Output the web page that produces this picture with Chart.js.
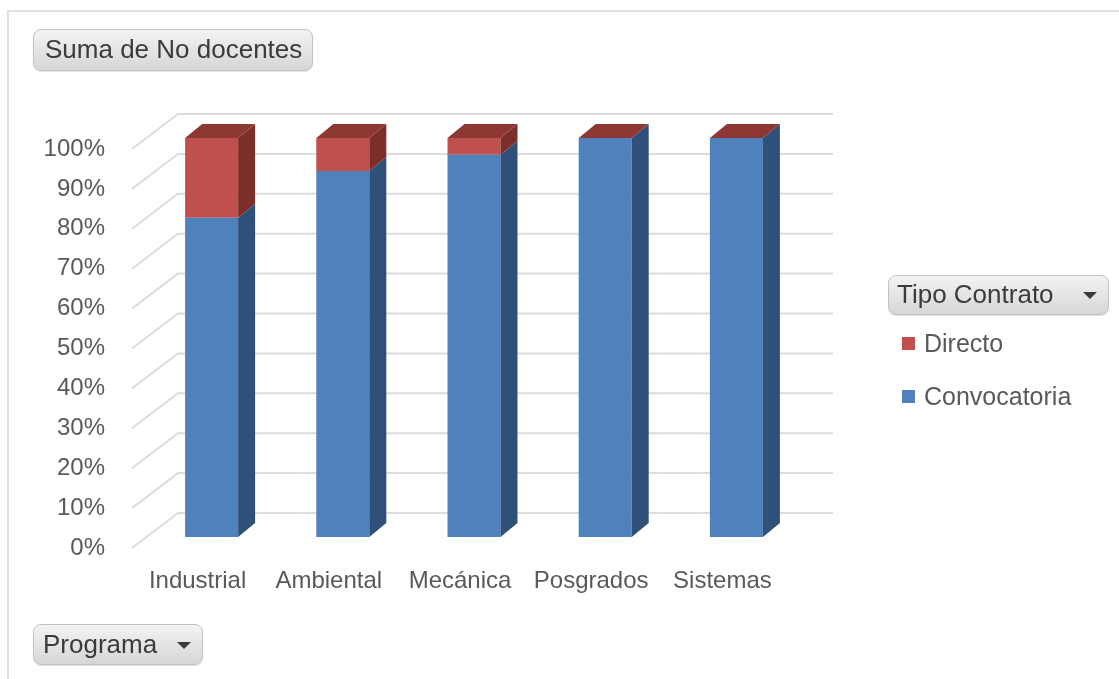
<!DOCTYPE html>
<html>
<head>
<meta charset="utf-8">
<title>Suma de No docentes</title>
<script src="https://cdn.jsdelivr.net/npm/chart.js@4"></script>
<style>
  html, body { margin: 0; padding: 0; background: #fff; }
  #wrap { position: relative; width: 1119px; height: 679px; overflow: hidden;
          font-family: "Liberation Sans", Arial, sans-serif; }
  #frame { position: absolute; left: 7px; top: 10px; width: 1130px; height: 700px;
           border: 2px solid #e2e2e2; box-sizing: border-box; }
  canvas { position: absolute; left: 0; top: 0; }
  .btn { position: absolute; box-sizing: border-box; border: 1px solid #c2c2c2;
         border-radius: 8px; background: linear-gradient(#f3f3f3, #d6d6d6);
         color: #3b3b3b; font-size: 26px; white-space: nowrap;
         box-shadow: 0 1px 1px rgba(0,0,0,0.12); }
  .btn span { position: absolute; top: 50%; transform: translateY(-52%); }
  .arrow { position: absolute; width: 0; height: 0;
           border-left: 7px solid transparent; border-right: 7px solid transparent;
           border-top: 7px solid #3b3b3b; }
  .leg { position: absolute; font-size: 25px; color: #595959; white-space: nowrap; }
  .sw { position: absolute; width: 13px; height: 13px; }
</style>
</head>
<body>
<div id="wrap">
  <div id="frame"></div>
  <canvas id="chart" width="1119" height="679"></canvas>

  <div class="btn" style="left:33px;top:29px;width:280px;height:42px;"><span style="left:11px;">Suma de No docentes</span></div>
  <div class="btn" style="left:33px;top:624px;width:170px;height:41px;"><span style="left:9px;">Programa</span><div class="arrow" style="left:143px;top:17px;"></div></div>
  <div class="btn" style="left:888px;top:275px;width:221px;height:40px;"><span style="left:8px;">Tipo Contrato</span><div class="arrow" style="left:194px;top:16px;"></div></div>
  <div id="legend"></div>
</div>

<script>
// Programs on the category axis
const categories = ['Industrial', 'Ambiental', 'Mecánica', 'Posgrados', 'Sistemas'];
// Share of staff by contract type (percent of each program)
const convocatoria = [80, 91.7, 95.8, 100, 100];
const directo = [20, 8.3, 4.2, 0, 0];
// Value axis ticks
const yTicks = [0, 10, 20, 30, 40, 50, 60, 70, 80, 90, 100];

const seriesNames = ['Convocatoria', 'Directo'];
const frontColors = ['#4f81bd', '#c0504d'];
const sideColors = ['#2f5078', '#7c2e2b'];
const topColor = '#8e3834';

// Depth of the extruded columns and of the chart's wall
const BAR_DX = 17, BAR_DY = 14;
const WALL_DY = 24, WALL_LEFT = 32, WALL_RIGHT = 31, WALL_FRONT_X = -14, WALL_FRONT_DY = 11;

// Back wall gridlines plus the slanted lines on the left side wall
const wallGrid = {
  id: 'wallGrid',
  beforeDatasetsDraw(chart) {
    const { ctx, chartArea, scales } = chart;
    ctx.save();
    ctx.strokeStyle = '#dcdcdc';
    ctx.lineWidth = 2;
    yTicks.forEach(v => {
      const y = scales.y.getPixelForValue(v);
      const by = y - WALL_DY;
      ctx.beginPath();
      ctx.moveTo(chartArea.left + WALL_FRONT_X, y + WALL_FRONT_DY);
      ctx.lineTo(chartArea.left + WALL_LEFT, by);
      ctx.lineTo(chartArea.right + WALL_RIGHT, by);
      ctx.stroke();
    });
    ctx.restore();
  }
};

// Side and top faces that give each stacked column its depth
const columnDepth = {
  id: 'columnDepth',
  afterDatasetsDraw(chart) {
    const { ctx } = chart;
    ctx.save();
    chart.data.datasets.forEach((ds, di) => {
      const meta = chart.getDatasetMeta(di);
      meta.data.forEach(bar => {
        const { x, y, base, width } = bar.getProps(['x', 'y', 'base', 'width'], true);
        const right = x + width / 2;
        if (Math.abs(base - y) > 0.1) {
          ctx.fillStyle = sideColors[di];
          ctx.beginPath();
          ctx.moveTo(right, y);
          ctx.lineTo(right + BAR_DX, y - BAR_DY);
          ctx.lineTo(right + BAR_DX, base - BAR_DY);
          ctx.lineTo(right, base);
          ctx.closePath();
          ctx.fill();
        }
      });
    });
    const lastMeta = chart.getDatasetMeta(chart.data.datasets.length - 1);
    lastMeta.data.forEach(bar => {
      const { x, y, width } = bar.getProps(['x', 'y', 'width'], true);
      const left = x - width / 2, right = x + width / 2;
      ctx.fillStyle = topColor;
      ctx.beginPath();
      ctx.moveTo(left, y);
      ctx.lineTo(left + BAR_DX, y - BAR_DY);
      ctx.lineTo(right + BAR_DX, y - BAR_DY);
      ctx.lineTo(right, y);
      ctx.closePath();
      ctx.fill();
    });
    ctx.restore();
  }
};

const textColor = '#595959';
const font = { family: '"Liberation Sans", Arial, sans-serif', size: 24 };

new Chart(document.getElementById('chart'), {
  type: 'bar',
  data: {
    labels: categories,
    datasets: [
      { label: seriesNames[0], data: convocatoria, backgroundColor: frontColors[0] },
      { label: seriesNames[1], data: directo, backgroundColor: frontColors[1] }
    ]
  },
  options: {
    responsive: false,
    animation: false,
    devicePixelRatio: 1,
    layout: { padding: { top: 138, left: 0, right: 317, bottom: 82 } },
    datasets: { bar: { categoryPercentage: 1, barPercentage: 0.404 } },
    plugins: { legend: { display: false }, tooltip: { enabled: false } },
    scales: {
      x: {
        stacked: true,
        grid: { display: false, drawTicks: false, tickLength: 0 },
        border: { display: false },
        ticks: { color: textColor, font, padding: 30, labelOffset: -14, maxRotation: 0, autoSkip: false },
        afterFit(scale) { scale.height = 60; }
      },
      y: {
        stacked: true,
        min: 0, max: 100,
        afterBuildTicks(scale) { scale.ticks = yTicks.map(v => ({ value: v })); },
        grid: { display: false, drawTicks: false, tickLength: 0 },
        border: { display: false },
        ticks: { color: textColor, font, padding: 41, labelOffset: 11, callback: v => v + '%' },
        afterFit(scale) { scale.width = 146; }
      }
    }
  },
  plugins: [wallGrid, columnDepth]
});

// Legend, top series listed first
const legend = document.getElementById('legend');
[1, 0].forEach((si, row) => {
  const top = 337 + row * 53;
  const sw = document.createElement('div');
  sw.className = 'sw';
  sw.style.left = '902px';
  sw.style.top = top + 'px';
  sw.style.background = frontColors[si];
  legend.appendChild(sw);
  const t = document.createElement('div');
  t.className = 'leg';
  t.style.left = '924px';
  t.style.top = (top - 8) + 'px';
  t.textContent = seriesNames[si];
  legend.appendChild(t);
});
</script>
</body>
</html>
